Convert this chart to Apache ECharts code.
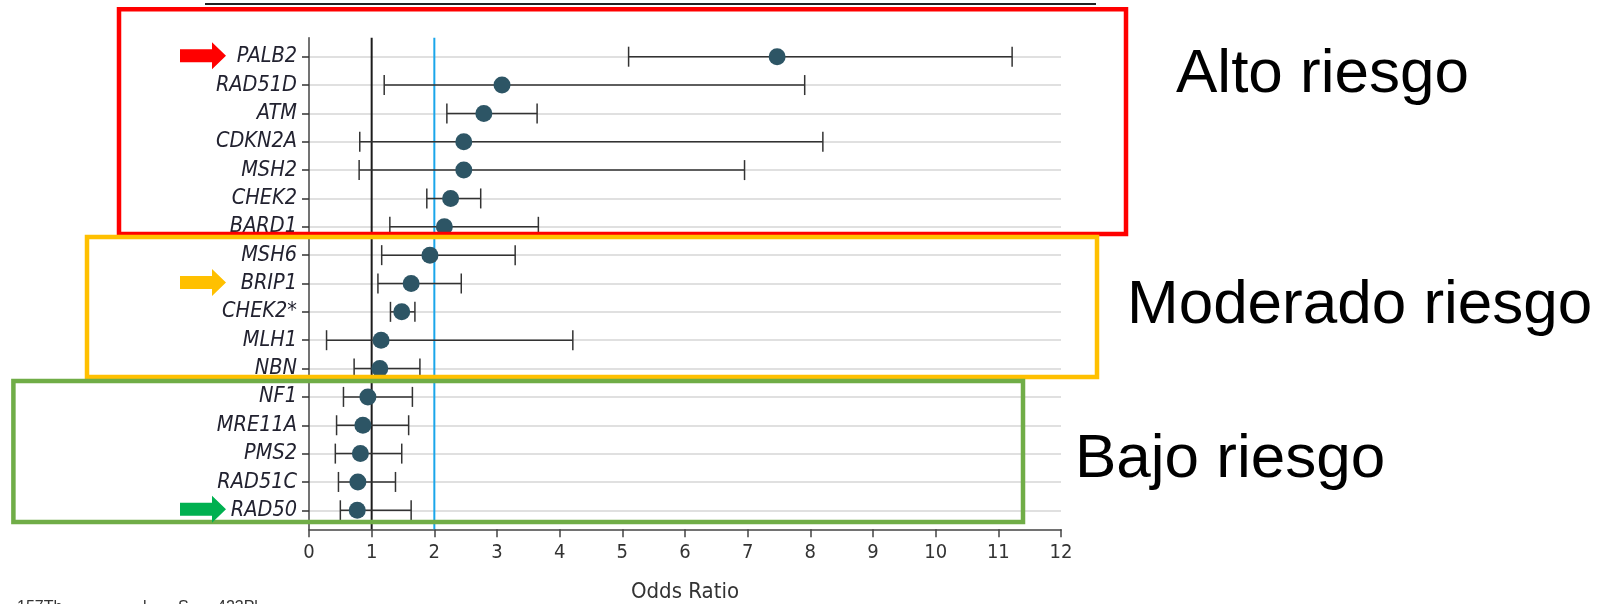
<!DOCTYPE html>
<html><head><meta charset="utf-8">
<script src="https://cdn.jsdelivr.net/npm/echarts@6.0.0/dist/echarts.min.js"></script>
<style>html,body{margin:0;padding:0;background:#fff}#c{width:1615px;height:604px}</style>
</head><body><div id="c"></div>
<script>
// ---- data ----
const genes = ['PALB2','RAD51D','ATM','CDKN2A','MSH2','CHEK2','BARD1','MSH6','BRIP1','CHEK2*','MLH1','NBN','NF1','MRE11A','PMS2','RAD51C','RAD50'];
const oddsRatio = [7.47,3.08,2.79,2.47,2.47,2.26,2.16,1.93,1.63,1.48,1.15,1.13,0.94,0.86,0.82,0.78,0.77];
const ciLower   = [5.10,1.20,2.20,0.81,0.80,1.88,1.29,1.16,1.10,1.30,0.28,0.72,0.55,0.44,0.42,0.47,0.50];
const ciUpper   = [11.22,7.91,3.64,8.20,6.95,2.74,3.66,3.29,2.43,1.69,4.21,1.77,1.65,1.59,1.48,1.38,1.63];
const xMin = 0, xMax = 12, xStep = 1;
const refLines = [1, 2];
const refColors = ['#1c1c1c', '#1aa6ea'];
const groupLabels = ['Alto riesgo', 'Moderado riesgo', 'Bajo riesgo'];
const arrowGenes = ['PALB2', 'BRIP1', 'RAD50'];
const arrowColors = ['#ff0000', '#ffc000', '#00b050'];
const xName = 'Odds Ratio';

const condensed = '"DejaVu Sans Condensed", "Liberation Sans Narrow", "DejaVu Sans", sans-serif';
const chart = echarts.init(document.getElementById('c'), null, {renderer: 'canvas'});

const G = {left: 309, width: 752};

const option = {
  animation: false,
  grid: [
    {left: G.left, width: G.width, top: 37.7, height: 491.6},
    {left: G.left, width: G.width, top: 56.7, height: 453.6}
  ],
  xAxis: [
    {gridIndex: 0, type: 'value', min: xMin, max: xMax, interval: xStep,
     axisLine: {show: true, lineStyle: {color: '#444', width: 1.5}},
     axisTick: {show: true, length: 8, lineStyle: {color: '#444', width: 1.5}},
     axisLabel: {fontSize: 20, color: '#333', margin: 13, fontFamily: condensed},
     splitLine: {show: false}},
    {gridIndex: 1, type: 'value', min: xMin, max: xMax, show: false}
  ],
  yAxis: [
    {gridIndex: 0, type: 'value', min: 0, max: 1,
     axisLine: {show: true, lineStyle: {color: '#444', width: 1.5}},
     axisTick: {show: false}, axisLabel: {show: false}, splitLine: {show: false}},
    {gridIndex: 1, type: 'category', data: genes, inverse: true, boundaryGap: false,
     axisLine: {show: false},
     axisTick: {show: true, length: 7, interval: 0, lineStyle: {color: '#333', width: 1.5}},
     axisLabel: {interval: 0, fontSize: 21.5, fontStyle: 'italic', color: '#222230', margin: 12, fontFamily: condensed},
     splitLine: {show: true, interval: 0, lineStyle: {color: '#e0e0e0', width: 2}}}
  ],
  series: [
    {type: 'custom', xAxisIndex: 0, yAxisIndex: 0, z: 2,
     data: refLines.map(v => [v]),
     encode: {x: 0},
     renderItem: function (params, api) {
       const v = api.value(0);
       const top = api.coord([v, 1]);
       const bot = api.coord([v, 0]);
       return {type: 'line', shape: {x1: top[0], y1: top[1], x2: bot[0], y2: bot[1]},
               style: {stroke: refColors[params.dataIndex], lineWidth: 2}};
     }},
    {type: 'custom', xAxisIndex: 1, yAxisIndex: 1, z: 3,
     data: genes.map((g, i) => [ciLower[i], ciUpper[i], i]),
     encode: {x: [0, 1], y: 2},
     renderItem: function (params, api) {
       const lo = api.coord([api.value(0), api.value(2)]);
       const hi = api.coord([api.value(1), api.value(2)]);
       const h = 10;
       const st = {stroke: '#333', lineWidth: 1.5};
       return {type: 'group', children: [
         {type: 'line', shape: {x1: lo[0], y1: lo[1], x2: hi[0], y2: hi[1]}, style: st},
         {type: 'line', shape: {x1: lo[0], y1: lo[1] - h, x2: lo[0], y2: lo[1] + h}, style: st},
         {type: 'line', shape: {x1: hi[0], y1: hi[1] - h, x2: hi[0], y2: hi[1] + h}, style: st}
       ]};
     }},
    {type: 'scatter', xAxisIndex: 1, yAxisIndex: 1, z: 4,
     symbol: 'circle', symbolSize: 17,
     itemStyle: {color: '#2d5565', opacity: 1},
     data: genes.map((g, i) => [oddsRatio[i], i])}
  ]
};
chart.setOption(option);

// ---- annotations ----
function rowY(g) { return chart.convertToPixel({yAxisIndex: 1}, g); }
function arrow(cy, color) {
  const x0 = 180, xb = 212, xh = 226;
  return {type: 'polygon', z: 100,
    shape: {points: [[x0, cy - 6.5], [xb, cy - 6.5], [xb, cy - 13.5], [xh, cy], [xb, cy + 13.5], [xb, cy + 6.5], [x0, cy + 6.5]]},
    style: {fill: color}};
}
function box(x1, y1, x2, y2, color) {
  return {type: 'rect', z: 100, shape: {x: x1, y: y1, width: x2 - x1, height: y2 - y1},
          style: {fill: null, stroke: color, lineWidth: 4.5}};
}
const bigFont = '62px "Liberation Sans", Arial, sans-serif';
const smallFont = '16px "Liberation Sans", Arial, sans-serif';
const xMid = chart.convertToPixel({xAxisIndex: 0}, (xMin + xMax) / 2);
const graphics = [
  {type: 'line', z: 100, shape: {x1: 205, y1: 4, x2: 1096, y2: 4}, style: {stroke: '#222', lineWidth: 2}},
  box(119, 9.2, 1126, 234, '#ff0000'),
  box(87, 237, 1097, 377, '#ffc000'),
  box(13.4, 381, 1023, 522, '#70ad47'),
  {type: 'text', z: 100, x: xMid, y: 592, style: {text: xName, font: '22px ' + condensed, fill: '#333', align: 'center', verticalAlign: 'middle'}},
  {type: 'text', z: 100, x: 1176, y: 75, style: {text: groupLabels[0], font: bigFont, fill: '#000', verticalAlign: 'middle'}},
  {type: 'text', z: 100, x: 1127, y: 306, style: {text: groupLabels[1], font: bigFont, fill: '#000', verticalAlign: 'middle'}},
  {type: 'text', z: 100, x: 1075, y: 460, style: {text: groupLabels[2], font: bigFont, fill: '#000', verticalAlign: 'middle'}},
  {type: 'text', z: 100, x: 17, y: 599.5, style: {text: '157Th', font: smallFont, fill: '#333', verticalAlign: 'top'}},
  {type: 'text', z: 100, x: 143, y: 599.5, style: {text: 'l', font: smallFont, fill: '#333', verticalAlign: 'top'}},
  {type: 'text', z: 100, x: 178, y: 599.5, style: {text: 'S', font: smallFont, fill: '#333', verticalAlign: 'top'}},
  {type: 'text', z: 100, x: 217, y: 599.5, style: {text: '423Pl', font: smallFont, fill: '#333', verticalAlign: 'top'}}
];
arrowGenes.forEach((g, i) => graphics.push(arrow(rowY(g) - 1, arrowColors[i])));
chart.setOption({graphic: graphics});
</script>
</body></html>
